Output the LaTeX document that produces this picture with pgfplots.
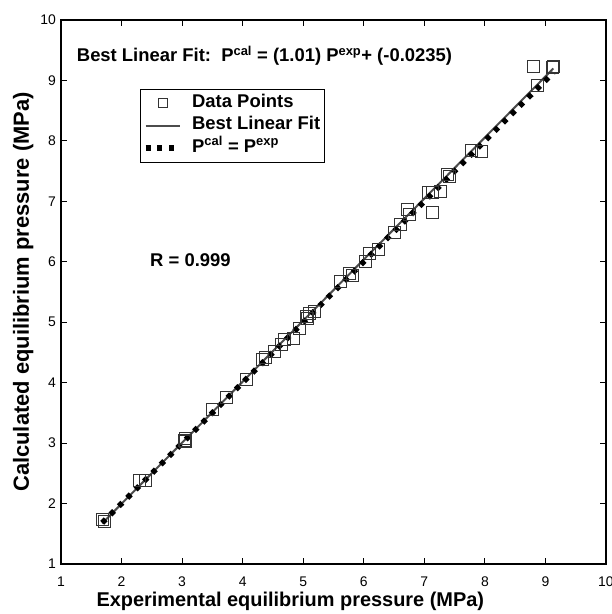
\documentclass[border=0pt]{standalone}
\usepackage{fontspec}
\setmainfont{Liberation Sans}
\usepackage{pgfplots}
\pgfplotsset{compat=1.18}
\pgfplotsset{smallsqlegend/.style={legend image code/.code={\draw[##1, mark size=4.5bp] plot coordinates {(17bp,0bp)};}}}
\pgfplotstableread{
x y
1.68 1.73
1.71 1.70
2.29 2.39
2.39 2.38
3.04 3.05
3.06 3.08
3.05 3.03
3.50 3.56
3.73 3.76
4.06 4.06
4.38 4.41
4.33 4.38
4.53 4.52
4.64 4.63
4.69 4.71
4.84 4.73
4.93 4.90
5.05 5.09
5.07 5.06
5.11 5.15
5.19 5.18
5.61 5.67
5.77 5.81
5.82 5.78
6.02 6.00
6.09 6.14
6.25 6.21
6.50 6.48
6.60 6.61
6.72 6.86
6.76 6.78
7.14 6.81
7.07 7.15
7.14 7.15
7.27 7.16
7.39 7.44
7.41 7.41
7.78 7.84
7.95 7.82
8.87 8.91
8.80 9.23
9.13 9.23
9.12 9.21
}\datatable
\begin{document}
\begin{tikzpicture}
\begin{axis}[
  at={(0,0)}, anchor=south west,
  scale only axis, width=545bp, height=544bp,
  xmin=1, xmax=10, ymin=1, ymax=10,
  xtick={1,...,10}, ytick={1,...,10},
  axis line style={line width=1.2bp, black},
  major tick length=6bp,
  tick style={line width=1bp, black},
  tick align=inside,
  /pgf/number format/assume math mode=true,
  tick label style={font=\fontsize{14}{16}\selectfont},
  xticklabel style={yshift=-9bp},
  yticklabel style={xshift=-1.7bp},
  xlabel={Experimental equilibrium pressure (MPa)},
  ylabel={Calculated equilibrium pressure (MPa)},
  label style={font=\fontsize{20}{24}\selectfont\bfseries},
  ylabel style={font=\fontsize{22}{26}\selectfont\bfseries},
  xlabel style={at={(rel axis cs:0.0587,0)}, anchor=base west, yshift=-42bp},
  legend cell align=left,
  legend image code/.code={\draw[mark repeat=2,mark phase=2,#1] plot coordinates {(0bp,0bp) (17bp,0bp) (34bp,0bp)};},
  legend style={at={(rel axis cs:0.145,0.873)}, anchor=north west,
    draw=black, line width=0.8bp, inner sep=2.5bp, row sep=0bp,
    font=\fontsize{18.5}{21}\selectfont\bfseries,
    nodes={inner sep=1.75bp, text height=13.5bp, text depth=5.5bp},
    /tikz/every odd column/.append style={column sep=8bp}},
]
\addplot[only marks, mark=square, mark size=6bp, mark options={draw=black!80, line width=0.9bp, fill=none},
  smallsqlegend] table[x=x, y=y] {\datatable};
\addlegendentry{Data Points}
\addplot[draw=black!70, line width=2bp] coordinates {(1.68,1.6733) (9.13,9.1978)};
\addlegendentry{Best Linear Fit}
\addplot[draw=black, line width=5.5bp, dash pattern=on 5bp off 6.8bp] coordinates {(1.68,1.68) (9.13,9.13)};
\addlegendentry{P\textsuperscript{cal} = P\textsuperscript{exp}}
\node[anchor=base west, font=\fontsize{18.5}{21}\selectfont\bfseries, inner sep=0pt] at (axis cs:1.26,9.31) {Best Linear Fit:\ \ P\textsuperscript{cal} = (1.01) P\textsuperscript{exp}+ (-0.0235)};
\node[anchor=base west, font=\fontsize{18.5}{21}\selectfont\bfseries, inner sep=0pt] at (axis cs:2.47,5.93) {R = 0.999};
\end{axis}
\pgfresetboundingbox
\useasboundingbox (-61bp,-50bp) rectangle (551bp,564bp);
\end{tikzpicture}
\end{document}
